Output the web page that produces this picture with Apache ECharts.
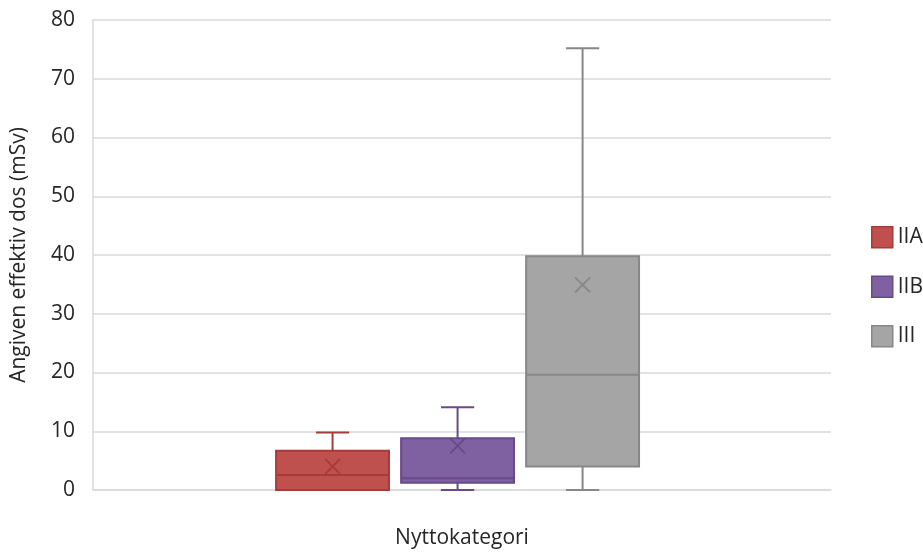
<!DOCTYPE html>
<html>
<head>
<meta charset="utf-8">
<script src="https://cdn.jsdelivr.net/npm/echarts@6/dist/echarts.min.js"></script>
<style>
  html, body { margin: 0; padding: 0; background: #fff; }
  #chart { width: 923px; height: 552px; }
</style>
</head>
<body>
<div id="chart"></div>
<script>
// ---- Data ----
const categories = ['Nyttokategori'];
const seriesNames = ['IIA', 'IIB', 'III'];
const minValues = [0, 0, 0];
const q1Values = [0, 1.25, 4.0];
const medianValues = [2.55, 2.0, 19.6];
const q3Values = [6.7, 8.8, 39.8];
const maxValues = [9.8, 14.1, 75.2];
const meanValues = [4.0, 7.5, 34.9];
const yMin = 0, yMax = 80, yInterval = 10;
const yTitle = 'Angiven effektiv dos (mSv)';

// ---- Styles ----
const fills = ['#C0504D', '#7F60A1', '#A5A5A5'];
const strokes = ['#A33D3A', '#674A8A', '#878787'];
const FONT = '"Open Sans", Lato, sans-serif';
const FS = 21;
const SPACING = 0.1694;   // fraction of band width between box centres
const SHIFT = -0.006;     // fraction of band width
const BOX_W = 0.153;
const CAP_W = 0.045;

const chart = echarts.init(document.getElementById('chart'), null, { renderer: 'canvas' });

function makeRender(idx) {
  return function (params, api) {
    const cat = api.value(0);
    const base = api.coord([cat, 0]);
    const bw = api.size([1, 0])[0];
    const cx = base[0] + bw * (SHIFT + (idx - 1) * SPACING);
    const hw = bw * BOX_W / 2;
    const cw = bw * CAP_W / 2;
    const y = v => api.coord([cat, v])[1];
    const yLo = y(api.value(1)), yQ1 = y(api.value(2)), yMed = y(api.value(3)),
          yQ3 = y(api.value(4)), yHi = y(api.value(5)), yMean = y(api.value(6));
    const stroke = strokes[idx];
    const ls = { stroke: stroke, lineWidth: 2, fill: null };
    const xs = 7.5;
    return {
      type: 'group',
      children: [
        { type: 'line', shape: { x1: cx, y1: yQ3, x2: cx, y2: yHi }, style: ls },
        { type: 'line', shape: { x1: cx - cw, y1: yHi, x2: cx + cw, y2: yHi }, style: ls },
        { type: 'line', shape: { x1: cx, y1: yQ1, x2: cx, y2: yLo }, style: ls },
        { type: 'line', shape: { x1: cx - cw, y1: yLo, x2: cx + cw, y2: yLo }, style: ls },
        { type: 'rect', shape: { x: cx - hw, y: yQ3, width: hw * 2, height: yQ1 - yQ3 },
          style: { fill: fills[idx], stroke: stroke, lineWidth: 2 } },
        { type: 'line', shape: { x1: cx - hw, y1: yMed, x2: cx + hw, y2: yMed }, style: ls },
        { type: 'line', shape: { x1: cx - xs, y1: yMean - xs, x2: cx + xs, y2: yMean + xs },
          style: { stroke: stroke, lineWidth: 1.8 } },
        { type: 'line', shape: { x1: cx - xs, y1: yMean + xs, x2: cx + xs, y2: yMean - xs },
          style: { stroke: stroke, lineWidth: 1.8 } }
      ]
    };
  };
}

const series = seriesNames.map((name, i) => ({
  type: 'custom',
  name: name,
  itemStyle: { color: fills[i], borderColor: strokes[i], borderWidth: 1.5 },
  renderItem: makeRender(i),
  encode: { x: 0, y: [1, 2, 3, 4, 5, 6] },
  data: [[0, minValues[i], q1Values[i], medianValues[i], q3Values[i], maxValues[i], meanValues[i]]],
  animation: false
}));

const option = {
  backgroundColor: '#fff',
  animation: false,
  grid: { left: 93, right: 92, top: 20, bottom: 62 },
  legend: {
    orient: 'vertical',
    left: 866,
    top: 221,
    itemWidth: 21,
    itemHeight: 21,
    itemGap: 27,
    icon: 'rect',
    textStyle: { fontFamily: FONT, fontSize: FS, color: '#262626', padding: [0, 0, 0, 0] },
    data: seriesNames.map((n, i) => ({
      name: n,
      icon: 'rect',
      itemStyle: { color: fills[i], borderColor: strokes[i], borderWidth: 1.5 }
    }))
  },
  xAxis: {
    type: 'category',
    data: categories,
    axisLine: { show: true, lineStyle: { color: '#D9D9D9', width: 1.5 } },
    axisTick: { show: false },
    splitLine: { show: false },
    axisLabel: { margin: 38, fontFamily: FONT, fontSize: FS, color: '#262626' }
  },
  yAxis: {
    type: 'value',
    min: yMin,
    max: yMax,
    interval: yInterval,
    name: yTitle,
    nameLocation: 'middle',
    nameRotate: 90,
    nameGap: 63,
    nameTextStyle: { fontFamily: FONT, fontSize: FS, color: '#262626' },
    axisLine: { show: true, lineStyle: { color: '#D9D9D9', width: 1.5 } },
    axisTick: { show: false },
    splitLine: { show: true, lineStyle: { color: '#D9D9D9', width: 1.5 } },
    axisLabel: { margin: 18, fontFamily: FONT, fontSize: FS, color: '#262626' }
  },
  series: series
};

chart.setOption(option);
</script>
</body>
</html>
